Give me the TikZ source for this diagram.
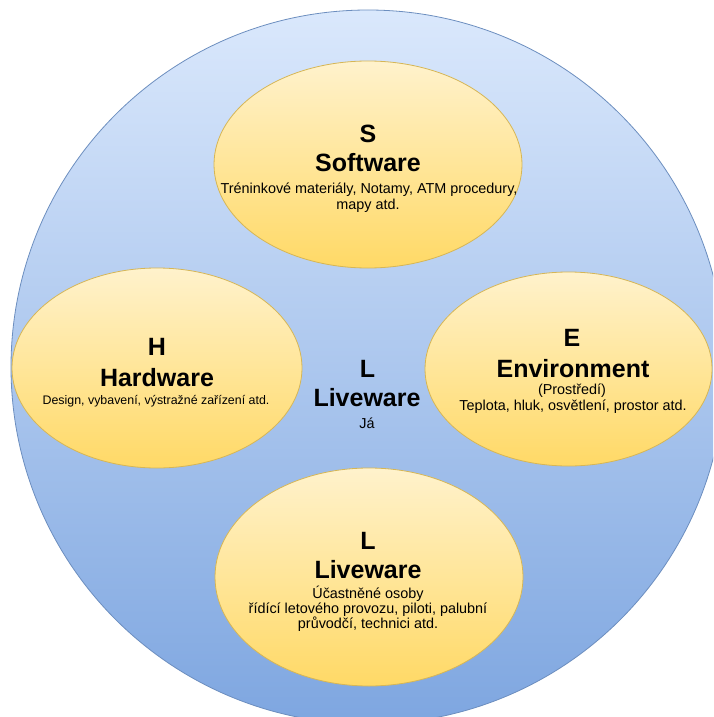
\documentclass[tikz,border=0pt]{standalone}
\usepackage{fontspec}
\setmainfont{Liberation Sans}
\usetikzlibrary{shapes.geometric}
\definecolor{circtop}{HTML}{DAE8FC}
\definecolor{circbot}{HTML}{7EA6E0}
\definecolor{circline}{HTML}{6C8EBF}
\definecolor{ovtop}{HTML}{FFF2CC}
\definecolor{ovbot}{HTML}{FFD966}
\definecolor{ovline}{HTML}{D6B656}
\tikzset{
  oval/.style={ellipse, draw=ovline, line width=0.8pt, top color=ovtop, bottom color=ovbot, inner sep=0pt},
  big/.style={font=\fontsize{25}{30}\selectfont\bfseries, anchor=base, inner sep=0pt},
  small/.style={font=\fontsize{14.4}{17}\selectfont, anchor=base, inner sep=0pt},
  smallh/.style={font=\fontsize{12.4}{15}\selectfont, anchor=base, inner sep=0pt}
}
\begin{document}
\begin{tikzpicture}[x=1pt,y=-1pt]
\useasboundingbox (0,0) rectangle (713,717);
\clip (0,0) rectangle (713,717);
\fill[white] (0,0) rectangle (713,717);
% big circle
\node[circle, draw=circline, line width=0.8pt, top color=circtop, bottom color=circbot, minimum size=714pt, inner sep=0pt] (world) at (368,367) {};
% ellipses
\node[oval, minimum width=308pt, minimum height=207pt] (S) at (368,164.5) {};
\node[oval, minimum width=290pt, minimum height=200pt] (H) at (157,368) {};
\node[oval, minimum width=287pt, minimum height=194pt] (E) at (568.5,369) {};
\node[oval, minimum width=308pt, minimum height=218pt] (L2) at (369,577) {};
% S text
\node[big] (s1) at (368,142.3) {S};
\node[big] (s2) at (368,171.7) {Software};
\node[small] (s3) at (369,193) {Tréninkové materiály, Notamy, ATM procedury,};
\node[small] (s4) at (368,209) {mapy atd.};
% H text
\node[big] (h1) at (157,355) {H};
\node[big] (h2) at (157,386.7) {Hardware};
\node[smallh] (h3) at (156,404) {Design, vybavení, výstražné zařízení atd.};
% E text
\node[big] (e1) at (572,346.7) {E};
\node[big] (e2) at (573,377.3) {Environment};
\node[small] (e3) at (572,394) {(Prostředí)};
\node[small] (e4) at (573,410.7) {Teplota, hluk, osvětlení, prostor atd.};
% L bottom text
\node[big] (l1) at (368,549) {L};
\node[big] (l2) at (368,578.3) {Liveware};
\node[small] (l3) at (368,598.3) {Účastněné osoby};
\node[small] (l4) at (368,613) {řídící letového provozu, piloti, palubní};
\node[small] (l5) at (368,628.3) {průvodčí, technici atd.};
% centre L
\node[big] (c1) at (367.5,377.3) {L};
\node[big] (c2) at (367,406.7) {Liveware};
\node[small] (c3) at (367,428) {Já};
\end{tikzpicture}
\end{document}
